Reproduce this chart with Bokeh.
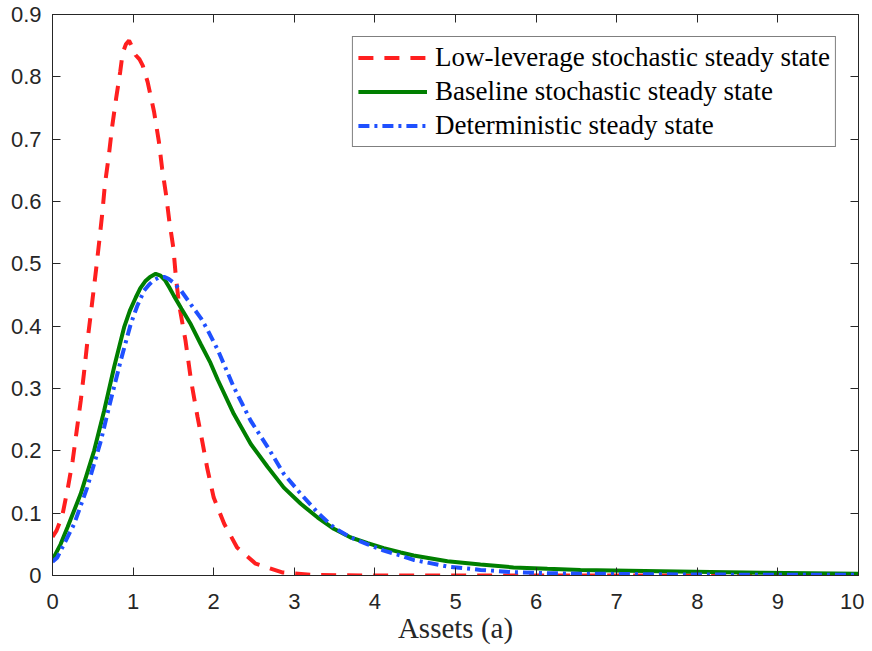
from bokeh.plotting import figure
from bokeh.models import (LinearAxis, FixedTicker, CustomJSTickFormatter, Legend,
                          LegendItem, Range1d, CustomLabelingPolicy)
from bokeh.embed import file_html
from bokeh.resources import INLINE

# ---------------- data ----------------
low_a = [0.0, 0.05, 0.12, 0.19, 0.25, 0.30, 0.35, 0.39, 0.43, 0.48, 0.54, 0.58,
         0.62, 0.65, 0.70, 0.74, 0.79, 0.84, 0.87, 0.91, 0.95, 1.00, 1.03, 1.08,
         1.12, 1.18, 1.26, 1.32, 1.36, 1.41, 1.45, 1.50, 1.53, 1.57, 1.65, 1.72,
         1.80, 1.86, 1.92, 2.00, 2.13, 2.29, 2.52, 2.85, 3.20, 4.0, 5.0, 6.0,
         7.0, 8.0, 9.0, 10.0]
low_y = [0.062, 0.072, 0.095, 0.140, 0.184, 0.232, 0.280, 0.324, 0.372, 0.425,
         0.490, 0.536, 0.584, 0.627, 0.675, 0.720, 0.766, 0.808, 0.838, 0.852,
         0.858, 0.845, 0.835, 0.828, 0.818, 0.792, 0.744, 0.696, 0.653, 0.610,
         0.568, 0.525, 0.480, 0.435, 0.377, 0.312, 0.254, 0.214, 0.172, 0.125,
         0.083, 0.045, 0.019, 0.005, 0.001, 0.0, 0.0, 0.0, 0.0, 0.0, 0.0, 0.0]

base_a = [0.0, 0.10, 0.185, 0.35, 0.516, 0.64, 0.764, 0.888, 0.96, 1.033, 1.09,
          1.15, 1.21, 1.28, 1.34, 1.40, 1.45, 1.505, 1.60, 1.716, 1.84, 1.96,
          2.05, 2.25, 2.46, 2.67, 2.87, 3.08, 3.29, 3.49, 3.70, 3.91, 4.11, 4.32,
          4.48, 4.90, 5.31, 5.72, 6.14, 6.55, 7.55, 8.79, 10.0]
base_y = [0.025, 0.050, 0.077, 0.131, 0.200, 0.264, 0.334, 0.398, 0.425, 0.446,
          0.461, 0.472, 0.479, 0.484, 0.481, 0.473, 0.462, 0.449, 0.428, 0.403,
          0.371, 0.341, 0.314, 0.259, 0.211, 0.174, 0.141, 0.115, 0.093, 0.075,
          0.061, 0.052, 0.044, 0.037, 0.032, 0.023, 0.0176, 0.013, 0.0107, 0.009,
          0.007, 0.0043, 0.003]

det_a = [0.0, 0.06, 0.27, 0.43, 0.60, 0.72, 0.847, 0.97, 1.05, 1.136, 1.20,
         1.26, 1.32, 1.385, 1.44, 1.50, 1.60, 1.716, 1.84, 1.92, 2.05, 2.25,
         2.46, 2.67, 2.87, 3.08, 3.29, 3.49, 3.70, 3.91, 4.11, 4.32, 4.48, 4.90,
         5.31, 5.72, 6.14, 6.55, 8.0, 10.0]
det_y = [0.022, 0.029, 0.083, 0.141, 0.216, 0.280, 0.345, 0.403, 0.432, 0.457,
         0.467, 0.474, 0.478, 0.479, 0.476, 0.470, 0.456, 0.435, 0.413, 0.395,
         0.362, 0.302, 0.248, 0.206, 0.163, 0.131, 0.101, 0.077, 0.061, 0.050,
         0.040, 0.032, 0.025, 0.0144, 0.009, 0.0053, 0.0037, 0.003, 0.0015, 0.001]

x_ticks = [0, 1, 2, 3, 4, 5, 6, 7, 8, 9, 10]
y_ticks = [0.0, 0.1, 0.2, 0.3, 0.4, 0.5, 0.6, 0.7, 0.8, 0.9]
labels = ["Low-leverage stochastic steady state",
          "Baseline stochastic steady state",
          "Deterministic steady state"]
x_label = "Assets (a)"

# ---------------- figure ----------------
AX = "#262626"
SERIF = "Liberation Serif"
p = figure(frame_width=806, frame_height=561, x_range=Range1d(0, 10),
           y_range=Range1d(0, 0.9), output_backend="svg", toolbar_location=None,
           min_border_left=52, min_border_right=6, min_border_top=14,
           min_border_bottom=60, background_fill_color="white",
           border_fill_color="white")
p.grid.visible = False
p.outline_line_color = AX
p.outline_line_width = 1

r1 = p.line(low_a, low_y, line_color="#ff1f1f", line_width=4, line_dash="15 11")
r2 = p.line(base_a, base_y, line_color="#007f00", line_width=4)
r3 = p.line(det_a, det_y, line_color="#1f50ff", line_width=4, line_dash="11 5 3 5")

fmt = CustomJSTickFormatter(code="return String(Number(tick.toFixed(1)));")

for ax in p.xaxis:
    ax.ticker = FixedTicker(ticks=x_ticks)
    ax.formatter = fmt
    ax.axis_label = x_label
for ax in p.yaxis:
    ax.ticker = FixedTicker(ticks=y_ticks)
    ax.formatter = fmt

for ax in list(p.xaxis) + list(p.yaxis):
    ax.major_tick_in = 8
    ax.major_tick_out = 0
    ax.minor_tick_in = 0
    ax.minor_tick_out = 0
    ax.axis_line_color = AX
    ax.major_tick_line_color = AX
    ax.major_label_text_font = "Liberation Sans"
    ax.major_label_text_font_size = "22px"
    ax.major_label_text_color = AX
    ax.major_label_text_line_height = 1.0

p.xaxis.major_label_standoff = 18
p.yaxis.major_label_standoff = 11
p.xaxis.axis_label_text_font = SERIF
p.xaxis.axis_label_text_font_style = "normal"
p.xaxis.axis_label_text_font_size = "29px"
p.xaxis.axis_label_text_color = AX
p.xaxis.axis_label_text_line_height = 1.0
p.xaxis.axis_label_standoff = 0

# mirrored axes (ticks only, labels hidden) on top and right
hide = CustomLabelingPolicy(code="for (let i = 0; i < indices.size; i++) { indices.unset(i) } return indices;")
top = LinearAxis(ticker=FixedTicker(ticks=x_ticks), major_tick_in=8, major_tick_out=0,
                 minor_tick_in=0, minor_tick_out=0, axis_line_color=AX,
                 major_tick_line_color=AX, major_label_text_font_size="1px",
                 major_label_standoff=0, major_label_policy=hide)
right = LinearAxis(ticker=FixedTicker(ticks=y_ticks), major_tick_in=8, major_tick_out=0,
                   minor_tick_in=0, minor_tick_out=0, axis_line_color=AX,
                   major_tick_line_color=AX, major_label_text_font_size="1px",
                   major_label_standoff=0, major_label_policy=hide)
p.add_layout(top, "above")
p.add_layout(right, "right")

legend = Legend(items=[LegendItem(label=labels[0], renderers=[r1]),
                       LegendItem(label=labels[1], renderers=[r2]),
                       LegendItem(label=labels[2], renderers=[r3])],
                location="top_right", margin=22, padding=5, spacing=3,
                glyph_width=69, glyph_height=27, label_height=27,
                label_standoff=8, label_text_font=SERIF,
                label_text_font_size="27px", label_text_color="black",
                label_text_line_height=1.0,
                border_line_color="black", border_line_width=1,
                background_fill_color="white", background_fill_alpha=1)
p.add_layout(legend)

open("out.html", "w").write(file_html(p, INLINE))
